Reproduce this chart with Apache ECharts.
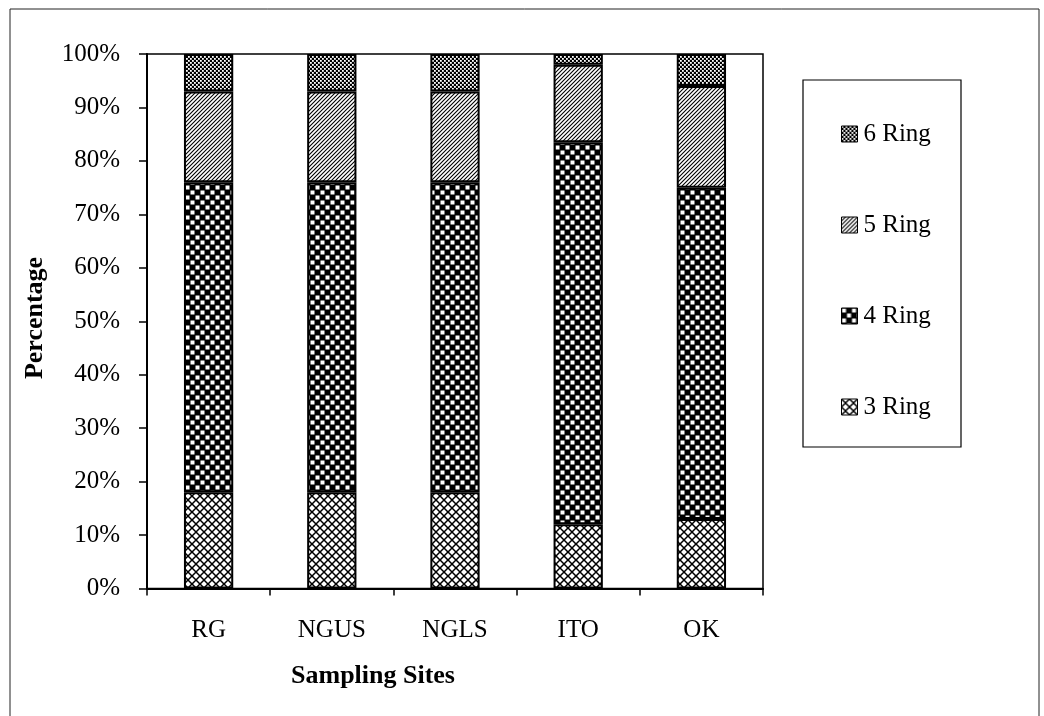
<!DOCTYPE html>
<html>
<head>
<meta charset="utf-8">
<script src="https://cdn.jsdelivr.net/npm/echarts@6/dist/echarts.min.js"></script>
<style>
html,body{margin:0;padding:0;background:#fff;}
#chart{width:1044px;height:716px;}
</style>
</head>
<body>
<div id="chart"></div>
<script>
// ---- data ----
const categories = ['RG', 'NGUS', 'NGLS', 'ITO', 'OK'];
const ring3 = [18, 18, 18, 12, 13];
const ring4 = [58, 58, 58, 71.5, 62];
const ring5 = [17, 17, 17, 14.5, 19];
const ring6 = [7, 7, 7, 2, 6];
const yTicks = [0, 10, 20, 30, 40, 50, 60, 70, 80, 90, 100];

// ---- patterns (style only) ----
function mk(w, h, draw) {
  const c = document.createElement('canvas');
  c.width = w; c.height = h;
  const g = c.getContext('2d');
  draw(g, w, h);
  return { image: c, repeat: 'repeat' };
}
const pat3 = mk(8, 8, (g, w, h) => {
  g.fillStyle = '#fff'; g.fillRect(0, 0, w, h);
  g.strokeStyle = '#000'; g.lineWidth = 1.5;
  g.beginPath();
  g.moveTo(-1, -1); g.lineTo(w + 1, h + 1);
  g.moveTo(-1, h + 1); g.lineTo(w + 1, -1);
  g.stroke();
});
const pat4 = mk(10, 10, (g, w, h) => {
  g.fillStyle = '#000'; g.fillRect(0, 0, w, h);
  g.fillStyle = '#fff';
  g.fillRect(0.5, 0.5, 4, 4);
  g.fillRect(5.5, 5.5, 4, 4);
});
const pat5 = mk(4, 4, (g, w, h) => {
  g.fillStyle = '#fff'; g.fillRect(0, 0, w, h);
  g.strokeStyle = '#000'; g.lineWidth = 1.1;
  g.beginPath();
  for (let k = -1; k <= 1; k++) {
    g.moveTo(-1 + k * w, h + 1); g.lineTo(w + 1 + k * w, -1);
  }
  g.stroke();
});
const pat6 = mk(4, 4, (g, w, h) => {
  g.fillStyle = '#000'; g.fillRect(0, 0, w, h);
  g.fillStyle = '#fff';
  g.fillRect(0, 0, 1.8, 1.8);
  g.fillRect(2, 2, 1.8, 1.8);
});

const FONT = "'Liberation Serif', 'Times New Roman', serif";
const chart = echarts.init(document.getElementById('chart'), null, { renderer: 'canvas' });

function ser(name, data, color) {
  return {
    name: name, type: 'bar', stack: 'total', data: data, barWidth: '40%',
    itemStyle: { color: color, borderColor: '#000', borderWidth: 2 },
    emphasis: { disabled: true }
  };
}

chart.setOption({
  animation: false,
  backgroundColor: '#fff',
  textStyle: { fontFamily: FONT, color: '#000' },
  grid: {
    left: 147, right: 281, top: 54, bottom: 127.5,
    show: true, borderColor: '#000', borderWidth: 1.5, backgroundColor: 'transparent'
  },
  xAxis: {
    type: 'category', data: categories,
    axisLine: { lineStyle: { color: '#000', width: 2 } },
    axisTick: { show: true, length: 7, lineStyle: { color: '#000', width: 1.5 } },
    axisLabel: { color: '#000', fontFamily: FONT, fontSize: 25, margin: 29 }
  },
  yAxis: {
    type: 'value', min: 0, max: 100, interval: 10,
    axisLine: { show: true, lineStyle: { color: '#000', width: 2 } },
    axisTick: { show: true, length: 8, lineStyle: { color: '#000', width: 1.5 } },
    splitLine: { show: false },
    axisLabel: {
      color: '#000', fontFamily: FONT, fontSize: 25, margin: 27,
      formatter: function (v) { return yTicks.indexOf(v) >= 0 ? v + '%' : ''; }
    }
  },
  legend: {
    orient: 'vertical', left: 836, top: 114,
    data: ['6 Ring', '5 Ring', '4 Ring', '3 Ring'],
    icon: 'rect', itemWidth: 16, itemHeight: 16, itemGap: 61,
    itemStyle: { borderColor: '#000', borderWidth: 1 },
    textStyle: { fontFamily: FONT, fontSize: 25, color: '#000', lineHeight: 30, padding: [0, 0, 0, 1] },
    selectedMode: false
  },
  graphic: [
    { type: 'rect', shape: { x: 10, y: 9, width: 1029, height: 720 },
      style: { fill: 'none', stroke: '#222', lineWidth: 1 }, silent: true },
    { type: 'rect', shape: { x: 803, y: 80, width: 158, height: 367 },
      style: { fill: '#fff', stroke: '#000', lineWidth: 1.2 }, z: -1, silent: true },
    { type: 'text', x: 373, y: 676,
      style: { text: 'Sampling Sites', font: "bold 26px 'Liberation Serif', 'Times New Roman', serif",
        fill: '#000', textAlign: 'center', textVerticalAlign: 'middle' } },
    { type: 'text', x: 35, y: 318, rotation: Math.PI / 2,
      style: { text: 'Percentage', font: "bold 26px 'Liberation Serif', 'Times New Roman', serif",
        fill: '#000', textAlign: 'center', textVerticalAlign: 'middle' } }
  ],
  series: [
    ser('3 Ring', ring3, pat3),
    ser('4 Ring', ring4, pat4),
    ser('5 Ring', ring5, pat5),
    ser('6 Ring', ring6, pat6)
  ]
});
</script>
</body>
</html>
